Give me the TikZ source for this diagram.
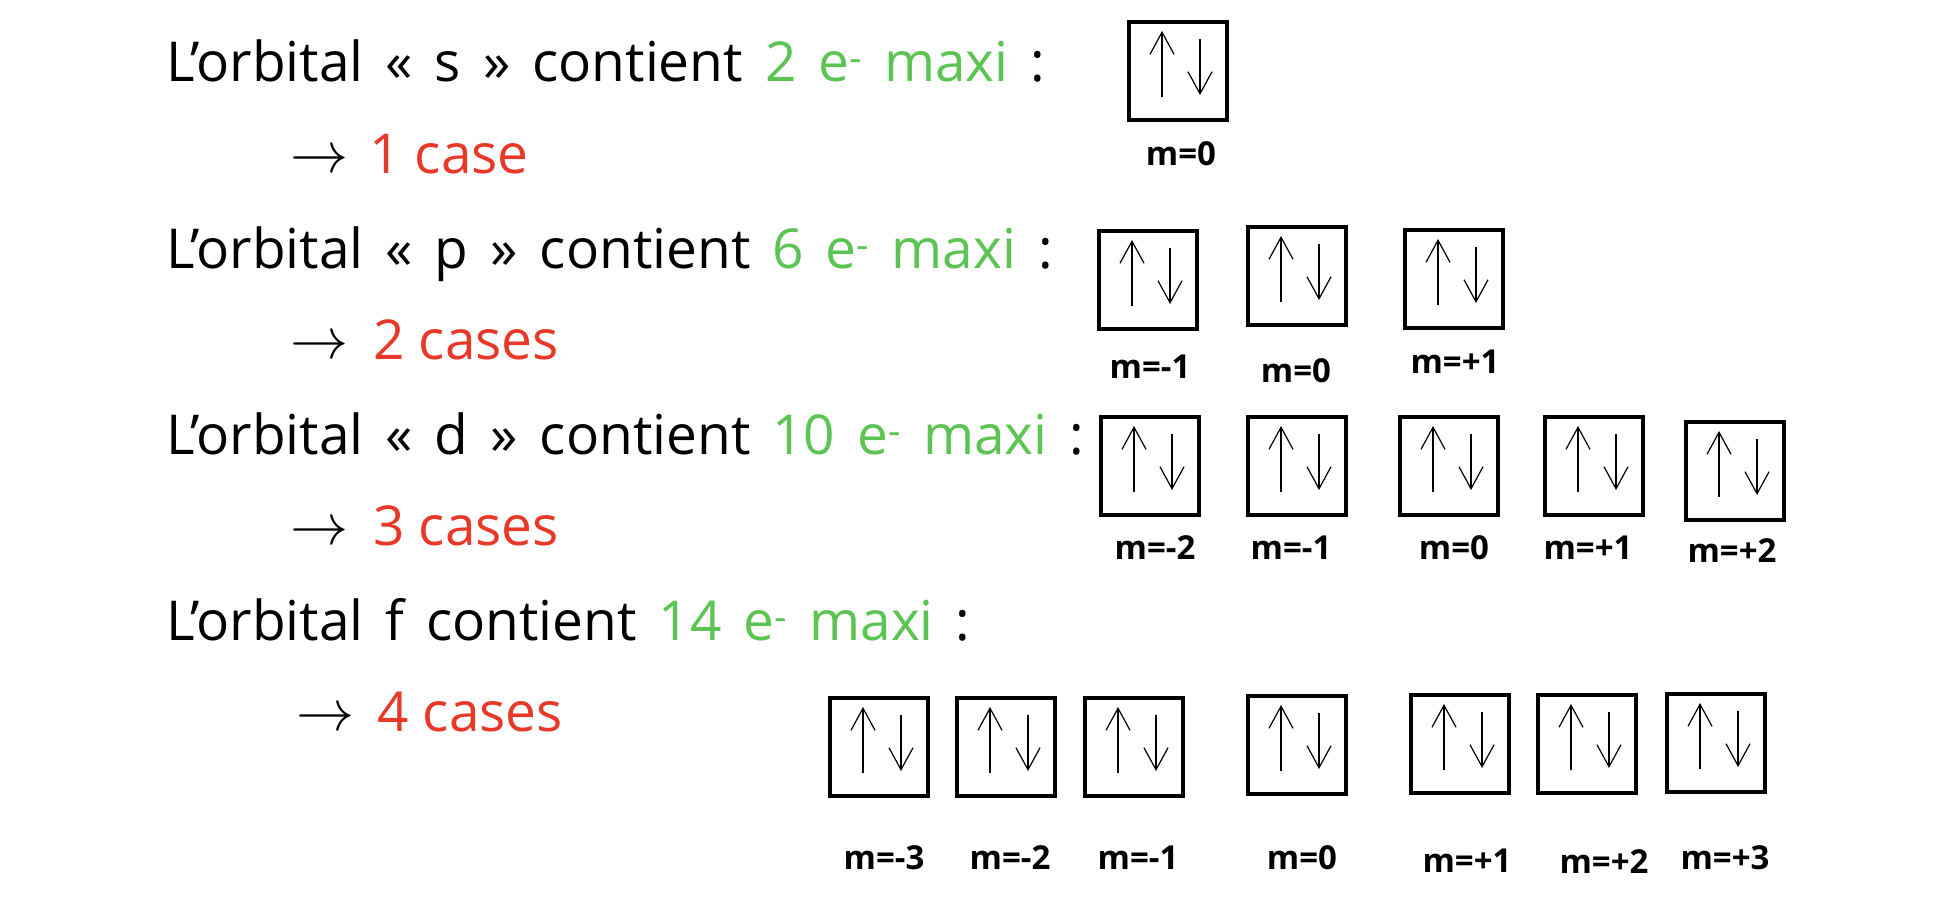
\documentclass[tikz,border=0pt]{standalone}
\usepackage{fontspec}
\setmainfont{Open Sans}
\usetikzlibrary{arrows.meta}
\definecolor{vert}{RGB}{92,196,83}
\definecolor{rouge}{RGB}{232,56,40}
\newcommand{\txtfont}{\fontsize{55}{66}\selectfont\setlength{\spaceskip}{0.4em}}
\tikzset{
  txt/.style={anchor=base west, inner sep=0pt, font=\txtfont},
  red/.style={anchor=base west, inner sep=0pt, text=rouge, font=\fontsize{55}{66}\selectfont},
  arr/.style={anchor=base west, inner sep=0pt},
  mlab/.style={font=\bfseries\fontsize{33}{38}\selectfont, inner sep=0pt},
  spin/.style={line width=1.2pt, -{Straight Barb[length=22pt,width=24pt,line width=1.2pt]}},
  boxst/.style={draw, line width=4.5pt, minimum size=98pt, inner sep=0pt},
  orb/.pic={
    \node[boxst] (-box) at (0,0) {};
    \draw[spin] (-16,26) -- (-16,-40);
    \draw[spin] (22,-32) -- (22,24);
  }
}
\newcommand{\bigarr}{\scalebox{5.8}{$\rightarrow$}}
\begin{document}
\begin{tikzpicture}[x=1pt,y=-1pt]
\fill[white] (0,0) rectangle (1950,918);
\useasboundingbox (0,0) rectangle (1950,918);
% texts
\node[txt] (l1) at (166,81) {L’orbital « s » contient \textcolor{vert}{2 e\textsuperscript{-} maxi} :};
\node[arr] (a2) at (290,172) {\bigarr};
\node[red] (l2) at (369,173) {1 case};
\node[txt] (l3) at (166,268) {L’orbital « p » contient \textcolor{vert}{6 e\textsuperscript{-} maxi} :};
\node[arr] (a4) at (290,358) {\bigarr};
\node[red] (l4) at (373,359) {2 cases};
\node[txt] (l5) at (166,454) {L’orbital « d » contient \textcolor{vert}{10 e\textsuperscript{-} maxi} :};
\node[arr] (a6) at (290,544) {\bigarr};
\node[red] (l6) at (373,545) {3 cases};
\node[txt] (l7) at (166,640) {L’orbital f contient \textcolor{vert}{14 e\textsuperscript{-} maxi} :};
\node[arr] (a8) at (296,730) {\bigarr};
\node[red] (l8) at (377,731) {4 cases};
% s
\pic (s0) at (1178,71) {orb};
\node[mlab] (ls0) at (1181,154) {m=0};
% p
\pic (p1) at (1148,280) {orb};
\pic (p2) at (1297,276) {orb};
\pic (p3) at (1454,279) {orb};
\node[mlab] (lp1) at (1150,367) {m=-1};
\node[mlab] (lp2) at (1296,371) {m=0};
\node[mlab] (lp3) at (1455,362) {m=+1};
% d
\pic (d1) at (1150,466) {orb};
\pic (d2) at (1297,466) {orb};
\pic (d3) at (1449,466) {orb};
\pic (d4) at (1594,466) {orb};
\pic (d5) at (1735,471) {orb};
\node[mlab] (ld1) at (1155,548) {m=-2};
\node[mlab] (ld2) at (1291,548) {m=-1};
\node[mlab] (ld3) at (1454,548) {m=0};
\node[mlab] (ld4) at (1588,548) {m=+1};
\node[mlab] (ld5) at (1732,551) {m=+2};
% f
\pic (f1) at (879,747) {orb};
\pic (f2) at (1006,747) {orb};
\pic (f3) at (1134,747) {orb};
\pic (f4) at (1297,745) {orb};
\pic (f5) at (1460,744) {orb};
\pic (f6) at (1587,744) {orb};
\pic (f7) at (1716,743) {orb};
\node[mlab] (lf1) at (884,858) {m=-3};
\node[mlab] (lf2) at (1010,858) {m=-2};
\node[mlab] (lf3) at (1138,858) {m=-1};
\node[mlab] (lf4) at (1302,858) {m=0};
\node[mlab] (lf5) at (1467,861) {m=+1};
\node[mlab] (lf6) at (1604,862) {m=+2};
\node[mlab] (lf7) at (1725,858) {m=+3};
\end{tikzpicture}
\end{document}
